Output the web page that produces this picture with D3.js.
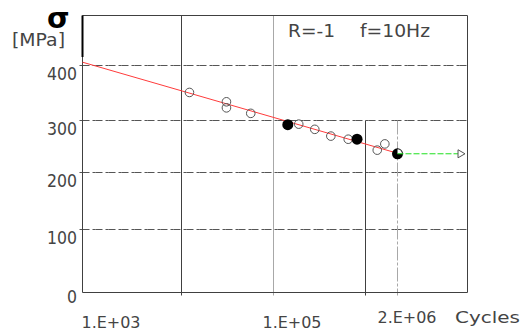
<!DOCTYPE html>
<html>
<head>
<meta charset="utf-8">
<script src="https://cdn.jsdelivr.net/npm/d3@7"></script>
<style>
  body { margin: 0; background: #fff; }
  text { font-family: "DejaVu Sans ExtraLight", "DejaVu Sans", sans-serif; }
  text.sigma { font-family: "DejaVu Sans", sans-serif; }
</style>
</head>
<body>
<div id="chart"></div>
<script>
const width = 527;
const height = 331;

// axis values
const stressTicks = [0, 100, 200, 300, 400];
const cycleLabels = ["1.E+03", "1.E+05", "2.E+06"];
const cycleLabelValues = [1e3, 1e5, 2e6];

// test results (open = broken specimens)
const openCycles = [12200, 30800, 30800, 56600, 188000, 281000, 420000, 649000, 1290000, 1520000];
const openStress = [351, 334, 323, 313, 293, 283, 270, 264, 243, 255];
const fullCycles = [143000, 809000];
const fullStress = [292, 264];
const runoutCycles = [2e6, 9.3e6];
const runoutStress = [236, 236];

// fitted S-N line
const fitCycles = [1e3, 2e6];
const fitStress = [406, 237];

const frame = { left: 82.5, right: 467.5, top: 15.5, bottom: 292.5 };

// the original grid is not evenly spaced, so both scales are piecewise
const x = d3.scaleLog()
  .domain([1e3, 1e4, 1e5, 1e6, 2e6, 1e7])
  .range([82.5, 181.5, 273.5, 365.5, 397.5, 467.5]);
const y = d3.scaleLinear()
  .domain([0, 100, 200, 300, 400])
  .range([292.5, 229.5, 172.5, 120.5, 65.5]);

const svg = d3.select("#chart").append("svg")
  .attr("width", width)
  .attr("height", height);

// horizontal dashed grid
svg.append("g").selectAll("line")
  .data(stressTicks.filter(d => d > 0))
  .join("line")
  .attr("x1", frame.left - 3).attr("x2", frame.right)
  .attr("y1", d => y(d)).attr("y2", d => y(d))
  .attr("stroke", "#555")
  .attr("stroke-dasharray", "3,0,7,3");

// vertical grid lines
const vGrid = [
  { v: 1e4, top: frame.top, color: "#404040", dash: null },
  { v: 1e5, top: frame.top, color: "#a8a8a8", dash: null },
  { v: 1e6, top: y(300), color: "#404040", dash: null },
  { v: 2e6, top: y(300), color: "#a8a8a8", dash: "14,2,3,2" }
];
svg.append("g").selectAll("line")
  .data(vGrid)
  .join("line")
  .attr("x1", d => x(d.v)).attr("x2", d => x(d.v))
  .attr("y1", d => d.top).attr("y2", frame.bottom + 3)
  .attr("stroke", d => d.color)
  .attr("stroke-dasharray", d => d.dash);

// frame
svg.append("path")
  .attr("d", `M${frame.left},${frame.top}H${frame.right}V${frame.bottom}H${frame.left}Z`)
  .attr("fill", "none")
  .attr("stroke", "#404040");
svg.append("line")
  .attr("x1", frame.left).attr("x2", frame.left)
  .attr("y1", frame.top).attr("y2", 57)
  .attr("stroke", "#000")
  .attr("stroke-width", 2);

// fitted line
svg.append("path")
  .datum(d3.zip(fitCycles, fitStress))
  .attr("d", d3.line().x(d => x(d[0])).y(d => y(d[1])))
  .attr("stroke", "#ff3b3b")
  .attr("fill", "none");

// open circles
svg.append("g").selectAll("circle")
  .data(d3.zip(openCycles, openStress))
  .join("circle")
  .attr("cx", d => x(d[0])).attr("cy", d => y(d[1]))
  .attr("r", 4.3)
  .attr("fill", "none")
  .attr("stroke", "#555");

// filled circles
svg.append("g").selectAll("circle")
  .data(d3.zip(fullCycles, fullStress))
  .join("circle")
  .attr("cx", d => x(d[0])).attr("cy", d => y(d[1]))
  .attr("r", 5.5)
  .attr("fill", "#000");

// run-out
const ro = d3.zip(runoutCycles, runoutStress);
svg.append("circle")
  .attr("cx", x(ro[0][0])).attr("cy", y(ro[0][1]))
  .attr("r", 5.5)
  .attr("fill", "#000");
svg.append("path")
  .attr("transform", `translate(${x(ro[0][0])},${y(ro[0][1])})`)
  .attr("d", d3.arc()({ innerRadius: 0, outerRadius: 4.5, startAngle: 0, endAngle: Math.PI / 2 }))
  .attr("fill", "#fff");
svg.append("path")
  .datum(ro)
  .attr("d", d3.line().x(d => x(d[0])).y(d => y(d[1])))
  .attr("stroke", "#1ee01e")
  .attr("stroke-dasharray", "6,2")
  .attr("fill", "none");
svg.append("path")
  .attr("transform", `translate(${x(ro[1][0]) - 4},${y(ro[1][1])}) rotate(90)`)
  .attr("d", d3.symbol(d3.symbolTriangle, 28)())
  .attr("fill", "#fff")
  .attr("stroke", "#555");

// y tick labels
svg.append("g").selectAll("text")
  .data(stressTicks)
  .join("text")
  .attr("x", 77)
  .attr("y", d => d === 0 ? 303 : y(d) + 14)
  .attr("text-anchor", "end")
  .attr("font-size", 18)
  .attr("textLength", d => String(d).length * 10)
  .attr("lengthAdjust", "spacingAndGlyphs")
  .attr("fill", "#444")
  .text(d => d);

// x labels
const labelDx = [-1, -11, -20];
svg.append("g").selectAll("text")
  .data(d3.zip(cycleLabelValues, cycleLabels))
  .join("text")
  .attr("x", (d, i) => x(d[0]) + labelDx[i])
  .attr("y", (d, i) => i === 2 ? 323 : 328)
  .attr("font-size", 16.5)
  .attr("textLength", 59)
  .attr("lengthAdjust", "spacingAndGlyphs")
  .attr("fill", "#444")
  .text(d => d[1]);
svg.append("text")
  .attr("x", 455).attr("y", 323)
  .attr("font-size", 16.5)
  .attr("textLength", 65)
  .attr("lengthAdjust", "spacingAndGlyphs")
  .attr("fill", "#444")
  .text("Cycles");

// y axis title
svg.append("text")
  .attr("class", "sigma")
  .attr("x", 47).attr("y", 28)
  .attr("font-size", 29)
  .attr("font-weight", "bold")
  .attr("fill", "#000")
  .text("σ");
svg.append("text")
  .attr("x", 12).attr("y", 46)
  .attr("font-size", 17)
  .attr("textLength", 53)
  .attr("lengthAdjust", "spacingAndGlyphs")
  .attr("fill", "#444")
  .text("[MPa]");

// test conditions
svg.append("text")
  .attr("x", 288).attr("y", 37)
  .attr("font-size", 18)
  .attr("textLength", 47)
  .attr("lengthAdjust", "spacingAndGlyphs")
  .attr("fill", "#444")
  .text("R=-1");
svg.append("text")
  .attr("x", 360).attr("y", 37)
  .attr("font-size", 18)
  .attr("textLength", 70)
  .attr("lengthAdjust", "spacingAndGlyphs")
  .attr("fill", "#444")
  .text("f=10Hz");
</script>
</body>
</html>
